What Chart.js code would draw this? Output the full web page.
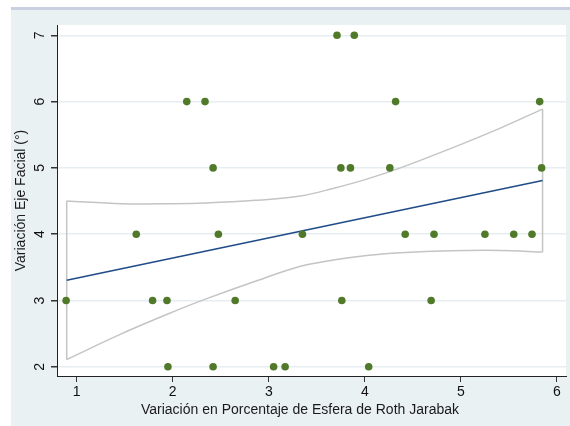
<!DOCTYPE html>
<html>
<head>
<meta charset="utf-8">
<script src="https://cdn.jsdelivr.net/npm/chart.js@4.4.1/dist/chart.umd.min.js"></script>
<style>
  html, body { margin: 0; padding: 0; background: #fff; }
</style>
</head>
<body>
<canvas id="scatterChart" width="570" height="426"></canvas>
<script>
const xTicks = [1, 2, 3, 4, 5, 6];
const yTicks = [2, 3, 4, 5, 6, 7];
const xTitle = 'Variación en Porcentaje de Esfera de Roth Jarabak';
const yTitle = 'Variación Eje Facial (°)';

// observaciones
const pointsX = [3.71, 3.89,
  2.146, 2.336, 4.32, 5.82,
  2.42, 3.75, 3.85, 4.26, 5.84,
  1.62, 2.475, 3.35, 4.42, 4.72, 5.25, 5.55, 5.74,
  0.89, 1.79, 1.94, 2.65, 3.76, 4.69,
  1.95, 2.42, 3.05, 3.17, 4.04];
const pointsY = [7, 7,
  6, 6, 6, 6,
  5, 5, 5, 5, 5,
  4, 4, 4, 4, 4, 4, 4, 4,
  3, 3, 3, 3, 3, 3,
  2, 2, 2, 2, 2];

// recta ajustada
const fitX = [0.896, 5.85];
const fitY = [3.304, 4.81];

// intervalo de confianza
const bandX = [0.896, 1.47, 1.99, 2.34, 2.86, 3.33, 3.67, 4.02, 4.37, 4.89, 5.41, 5.85];
const bandUpper = [4.50, 4.46, 4.46, 4.47, 4.51, 4.575, 4.69, 4.83, 5.0, 5.29, 5.60, 5.886];
const bandLower = [2.11, 2.50, 2.82, 3.02, 3.29, 3.515, 3.61, 3.68, 3.72, 3.75, 3.755, 3.73];

const last = bandX.length - 1;
const upperCurve = bandX.map((x, i) => ({x: x, y: bandUpper[i]}));
const lowerCurve = bandX.map((x, i) => ({x: x, y: bandLower[i]}));
const leftEnd = [{x: bandX[0], y: bandLower[0]}, {x: bandX[0], y: bandUpper[0]}];
const rightEnd = [{x: bandX[last], y: bandLower[last]}, {x: bandX[last], y: bandUpper[last]}];

const FONT = 'Liberation Sans, Arial, sans-serif';
const BAND = '#c4c4c4';

const background = {
  id: 'background',
  beforeDraw(chart) {
    const c = chart.ctx;
    const a = chart.chartArea;
    c.save();
    c.fillStyle = '#ffffff';
    c.fillRect(0, 0, chart.width, chart.height);
    c.fillStyle = '#c9d0e2';
    c.fillRect(11, 7, chart.width - 11, 3);
    c.fillStyle = '#eaf1f3';
    c.fillRect(11, 10, chart.width - 11, chart.height - 10);
    c.fillStyle = '#ffffff';
    c.fillRect(a.left, a.top, a.right - a.left, a.bottom - a.top);
    c.restore();
  }
};

// x title sits a bit left of the plot centre in the original
const xTitlePlugin = {
  id: 'xTitle',
  afterDraw(chart) {
    const c = chart.ctx;
    c.save();
    c.font = '14px ' + FONT;
    c.fillStyle = '#1a1a1a';
    c.textAlign = 'center';
    c.textBaseline = 'middle';
    c.fillText(xTitle, 300, 410);
    c.restore();
  }
};

const lineSet = (data, color, width, extra) => Object.assign({
  data: data,
  showLine: true,
  borderColor: color,
  borderWidth: width,
  pointRadius: 0,
  fill: false,
}, extra || {});

const ctx = document.getElementById('scatterChart').getContext('2d');
const chart = new Chart(ctx, {
  type: 'scatter',
  data: {
    datasets: [{
      data: pointsX.map((x, i) => ({x: x, y: pointsY[i]})),
      backgroundColor: '#507a2a',
      borderColor: '#507a2a',
      borderWidth: 0,
      pointRadius: 3.8,
    },
    lineSet(fitX.map((x, i) => ({x: x, y: fitY[i]})), '#1f4b86', 1.6),
    lineSet(upperCurve, BAND, 1.5, {tension: 0.35}),
    lineSet(lowerCurve, BAND, 1.5, {tension: 0.35}),
    lineSet(leftEnd, BAND, 1.5),
    lineSet(rightEnd, BAND, 1.5),
    ],
  },
  options: {
    responsive: false,
    animation: false,
    layout: {
      padding: {top: 25, right: 3, left: 0, bottom: 0},
    },
    plugins: {
      legend: {display: false},
      tooltip: {enabled: false},
    },
    scales: {
      x: {
        type: 'linear',
        min: 0.795,
        max: 6.094,
        afterBuildTicks: s => { s.ticks = xTicks.map(v => ({value: v})); },
        afterFit: s => { s.height = 50; },
        grid: {drawOnChartArea: false, tickLength: 6, tickColor: '#333'},
        border: {color: '#222', width: 1},
        ticks: {color: '#111', font: {family: FONT, size: 14}, padding: 2, maxRotation: 0, autoSkip: false},
      },
      y: {
        type: 'linear',
        min: 1.861,
        max: 7.155,
        afterBuildTicks: s => { s.ticks = yTicks.map(v => ({value: v})); },
        afterFit: s => { s.width = 57; },
        grid: {color: '#e6eef1', lineWidth: 1.5, tickLength: 6, tickColor: '#333'},
        border: {color: '#222', width: 1},
        ticks: {
          color: '#111',
          font: {family: FONT, size: 14},
          minRotation: 90,
          maxRotation: 90,
          crossAlign: 'center',
          padding: 7,
        },
        title: {
          display: true,
          text: yTitle,
          color: '#1a1a1a',
          font: {family: FONT, size: 14},
          padding: {top: 13, bottom: 0},
        },
      },
    },
  },
  plugins: [background, xTitlePlugin],
});
</script>
</body>
</html>
